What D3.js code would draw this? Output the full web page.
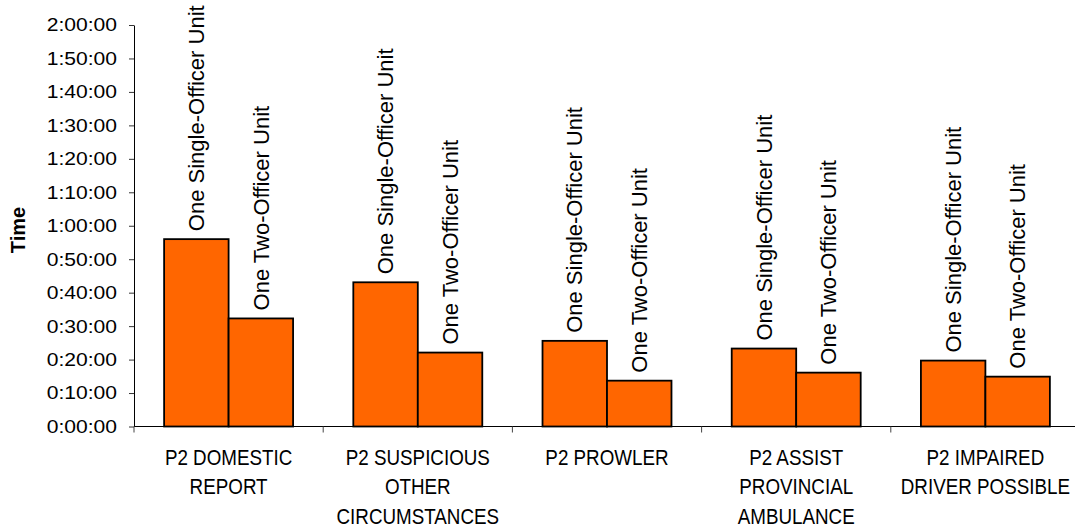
<!DOCTYPE html>
<html>
<head>
<meta charset="utf-8">
<script src="https://cdn.jsdelivr.net/npm/d3@7"></script>
<style>
  html, body { margin: 0; padding: 0; background: #fff; }
  svg { display: block; }
  text { font-family: "Liberation Sans", Arial, sans-serif; fill: #000; }
</style>
</head>
<body>
<svg id="chart" width="1075" height="527"></svg>
<script>
// ---- data ----
const categories = ["P2 DOMESTIC REPORT", "P2 SUSPICIOUS OTHER CIRCUMSTANCES", "P2 PROWLER", "P2 ASSIST PROVINCIAL AMBULANCE", "P2 IMPAIRED DRIVER POSSIBLE"];
const categoryLines = [
  ["P2 DOMESTIC", "REPORT"],
  ["P2 SUSPICIOUS", "OTHER", "CIRCUMSTANCES"],
  ["P2 PROWLER"],
  ["P2 ASSIST", "PROVINCIAL", "AMBULANCE"],
  ["P2 IMPAIRED", "DRIVER POSSIBLE"]
];
const seriesNames = ["One Single-Officer Unit", "One Two-Officer Unit"];
// minutes
const singleOfficer = [56.0, 43.1, 25.6, 23.3, 19.7];
const twoOfficer = [32.3, 22.1, 13.7, 16.1, 14.9];
const yTicks = [0, 10, 20, 30, 40, 50, 60, 70, 80, 90, 100, 110, 120];
const yTitle = "Time";

// ---- layout ----
const svg = d3.select("#chart");
const mLeft = 134, mRight = 1080, mTop = 25, mBottom = 426.5;

const x = d3.scaleBand().domain(categories).range([mLeft, mRight]).paddingInner(0).paddingOuter(0);
const xInner = d3.scaleBand().domain(seriesNames).range([0, x.bandwidth()]).paddingInner(0).paddingOuter(0.467);
const y = d3.scaleLinear().domain([0, 120]).range([mBottom, mTop]);

const fmt = m => {
  const h = Math.floor(m / 60), mm = m % 60;
  return h + ":" + String(mm).padStart(2, "0") + ":00";
};

// y axis
const yAxis = svg.append("g").attr("transform", `translate(${mLeft},0)`)
  .call(d3.axisLeft(y).tickValues(yTicks).tickFormat(fmt).tickSize(5).tickPadding(12).tickSizeOuter(0));
yAxis.select(".domain").attr("stroke", "#000").attr("stroke-width", 1);
yAxis.selectAll(".tick line").attr("stroke", "#333");
yAxis.selectAll(".tick text")
  .attr("x", 0)
  .attr("transform", "translate(-17,0) scale(1.14,1)")
  .style("font-family", '"Liberation Sans", Arial, sans-serif')
  .style("font-size", "18.5px")
  .attr("fill", "#000");

// y title
svg.append("text")
  .attr("transform", `translate(25,230) rotate(-90)`)
  .attr("text-anchor", "middle")
  .style("font-size", "20px")
  .style("font-weight", "bold")
  .text(yTitle);

// data rows
const rows = categories.map((c, i) => ({ cat: c, vals: [singleOfficer[i], twoOfficer[i]] }));

const groups = svg.append("g").selectAll("g").data(rows).join("g")
  .attr("transform", d => `translate(${x(d.cat)},0)`);

groups.selectAll("rect").data(d => d.vals.map((v, j) => ({ s: seriesNames[j], v })))
  .join("rect")
  .attr("x", d => xInner(d.s))
  .attr("width", xInner.bandwidth())
  .attr("y", d => y(d.v))
  .attr("height", d => y(0) - y(d.v))
  .attr("fill", "#FF6600")
  .attr("stroke", "#000")
  .attr("stroke-width", 1.8);

groups.selectAll("text.lbl").data(d => d.vals.map((v, j) => ({ s: seriesNames[j], v })))
  .join("text")
  .attr("class", "lbl")
  .attr("transform", d => `translate(${xInner(d.s) + xInner.bandwidth() / 2},${y(d.v) - 8}) rotate(-90)`)
  .attr("dy", "0.35em")
  .attr("text-anchor", "start")
  .style("font-size", "22px")
  .text(d => d.s);

// x axis line
svg.append("line")
  .attr("x1", mLeft).attr("x2", 1075)
  .attr("y1", y(0)).attr("y2", y(0))
  .attr("stroke", "#000").attr("stroke-width", 1);

// boundary ticks
const bounds = categories.map(c => x(c)).concat([x(categories[categories.length - 1]) + x.bandwidth()]);
svg.append("g").selectAll("line").data(bounds).join("line")
  .attr("x1", d => d).attr("x2", d => d)
  .attr("y1", y(0)).attr("y2", y(0) + 6)
  .attr("stroke", "#444").attr("stroke-width", 1);

// x labels
const xl = svg.append("g").selectAll("text").data(categories).join("text")
  .attr("transform", d => `translate(${x(d) + x.bandwidth() / 2},465) scale(0.855,1)`)
  .attr("text-anchor", "middle")
  .style("font-size", "22px");
xl.selectAll("tspan").data((d, i) => categoryLines[i]).join("tspan")
  .attr("x", 0)
  .attr("y", (d, i) => i * 29.5)
  .text(d => d);
</script>
</body>
</html>
